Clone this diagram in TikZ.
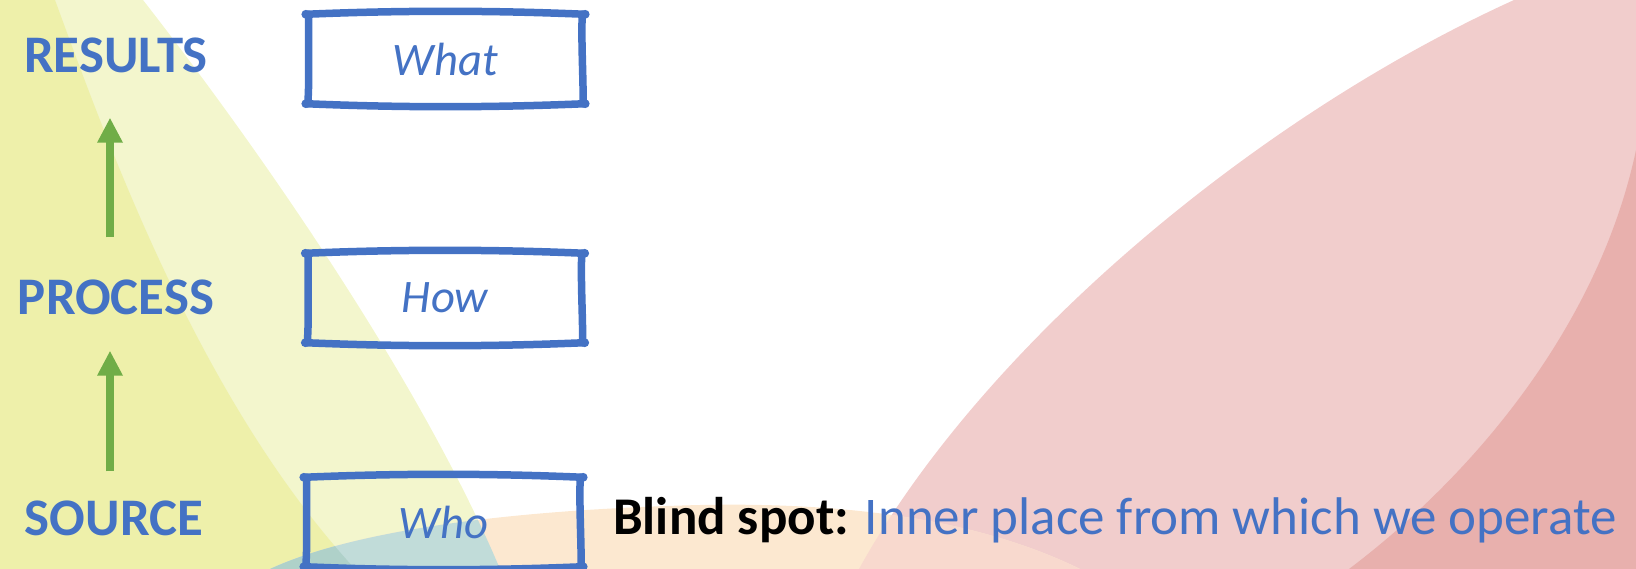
\documentclass[tikz,border=0pt]{standalone}
\usepackage{fontspec}
\setmainfont{Carlito}
\usetikzlibrary{arrows.meta,calc}
\definecolor{cblue}{HTML}{4472C4}
\definecolor{cgreen}{HTML}{70AD47}
\definecolor{ydark}{HTML}{EEF0AA}
\definecolor{ylight}{HTML}{F3F6CD}
\definecolor{plight}{HTML}{F1CDCC}
\definecolor{pdark}{HTML}{E8B0AD}
\definecolor{peach}{HTML}{FCE8D0}
\definecolor{salmon}{HTML}{F8D9CE}
\definecolor{teallight}{HTML}{C1DCD9}
\definecolor{tealdark}{HTML}{AFD1C9}
\newcommand{\handbox}[1]{%
  \draw[boxline] ([shift={(-3,1)}]#1.north west) .. controls ([shift={(90,-3)}]#1.north west) and ([shift={(-90,-3)}]#1.north east) .. ([shift={(3,1)}]#1.north east);
  \draw[boxline] ([shift={(-3,-1)}]#1.south west) .. controls ([shift={(90,3)}]#1.south west) and ([shift={(-90,3)}]#1.south east) .. ([shift={(3,-1)}]#1.south east);
  \draw[boxline] ([shift={(0,1)}]#1.north west) .. controls ([shift={(-1,30)}]#1.north west) and ([shift={(1,-30)}]#1.south west) .. ([shift={(-1,-1)}]#1.south west);
  \draw[boxline] ([shift={(0,1)}]#1.north east) .. controls ([shift={(-1,30)}]#1.north east) and ([shift={(1,-30)}]#1.south east) .. ([shift={(1,-1)}]#1.south east);
  \fill[cblue] ([shift={(-3,1)}]#1.north west) circle[radius=4.4pt];
  \fill[cblue] ([shift={(3,1)}]#1.north east) circle[radius=4.4pt];
  \fill[cblue] ([shift={(-3,-1)}]#1.south west) circle[radius=4.4pt];
  \fill[cblue] ([shift={(3,-1)}]#1.south east) circle[radius=4.4pt];
}
\begin{document}
\begin{tikzpicture}[x=1pt,y=-1pt,
  boxline/.style={draw=cblue, line width=7.5pt, line cap=round, line join=round},
  boxnode/.style={minimum width=273pt, minimum height=91pt, inner sep=0pt, text=cblue, font=\itshape\fontsize{46.6}{52}\selectfont},
  lbl/.style={inner sep=0pt, text=cblue, font=\bfseries\fontsize{52.8}{60}\selectfont},
  arr/.style={draw=cgreen, line width=8pt, -{Triangle[width=24pt,length=25pt]}}]
\useasboundingbox (0,0) rectangle (1636,569);
\begin{scope}
  \clip (0,0) rectangle (1636,569);
  % yellow regions
  \fill[ylight] (0,0) -- (143,0) .. controls (260,150) and (420,380) .. (500,569) -- (0,569) -- cycle;
  \fill[ydark] (0,0) -- (55,0) .. controls (110,150) and (200,400) .. (355,569) -- (0,569) -- cycle;
  % pink regions
  \fill[plight] (1514,0) .. controls (1250,120) and (980,350) .. (859,569) -- (1636,569) -- (1636,0) -- cycle;
  \fill[pdark] (1636,150) .. controls (1600,320) and (1480,470) .. (1349,569) -- (1636,569) -- cycle;
  % peach region
  \fill[peach] (270,569) .. controls (350,532) and (500,510) .. (700,505) .. controls (850,502) and (980,520) .. (1080,569) -- cycle;
  \begin{scope}
    \clip (1514,0) .. controls (1250,120) and (980,350) .. (859,569) -- (1636,569) -- (1636,0) -- cycle;
    \fill[salmon] (270,569) .. controls (350,532) and (500,510) .. (700,505) .. controls (850,502) and (980,520) .. (1080,569) -- cycle;
  \end{scope}
  \begin{scope}
    \clip (0,0) -- (143,0) .. controls (260,150) and (420,380) .. (500,569) -- (0,569) -- cycle;
    \fill[teallight] (270,569) .. controls (350,532) and (500,510) .. (700,505) .. controls (850,502) and (980,520) .. (1080,569) -- cycle;
  \end{scope}
  \begin{scope}
    \clip (0,0) -- (55,0) .. controls (110,150) and (200,400) .. (355,569) -- (0,569) -- cycle;
    \fill[tealdark] (270,569) .. controls (350,532) and (500,510) .. (700,505) .. controls (850,502) and (980,520) .. (1080,569) -- cycle;
  \end{scope}
\end{scope}
% boxes
\node[boxnode] (what) at (445.5,59) {What};
\node[boxnode] (how) at (445,298) {How};
\node[boxnode] (who) at (443.5,522) {Who};
\handbox{what}
\handbox{how}
\handbox{who}
% labels
\node[lbl] (results) at (116,55) {RESULTS};
\node[lbl] (process) at (116,297) {PROCESS};
\node[lbl] (source) at (114,518) {SOURCE};
% arrows
\draw[arr, shorten <=42pt, shorten >=45pt] ([xshift=-6pt]process.north) -- ([xshift=-6pt]results.south);
\draw[arr, shorten <=29pt, shorten >=36pt] ([xshift=-4pt]source.north) -- ([xshift=-6pt]process.south);
% blind spot
\node[anchor=base west, inner sep=0pt, font=\fontsize{53}{60}\selectfont] (blind) at (613,534) {\textbf{Blind spot:} \textcolor{cblue}{Inner place from which we operate}};
\end{tikzpicture}
\end{document}
